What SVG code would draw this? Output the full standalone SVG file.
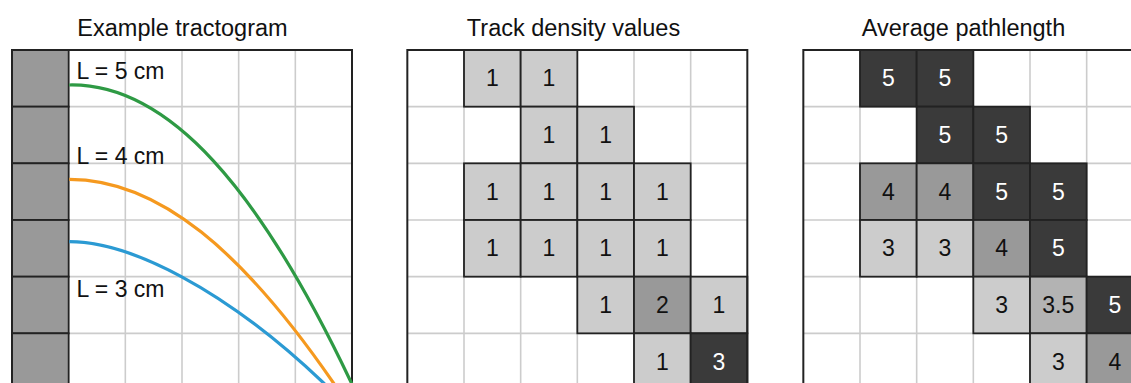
<svg xmlns="http://www.w3.org/2000/svg" width="1131" height="383" viewBox="0 0 1131 383">
<style>
text{font-family:"Liberation Sans",Arial,Helvetica,sans-serif;font-size:23px;fill:#111}
.title{font-size:23.5px;text-anchor:middle}
.v{text-anchor:middle}
.w{fill:#fff}
.grid{stroke:#cccccc;stroke-width:1.6;fill:none}
.frame{stroke:#222;stroke-width:2;fill:none}
.c{stroke:#222;stroke-width:1.8}
.g0{fill:#999999}
.lt{fill:#cccccc}
.md{fill:#999999}
.hm{fill:#b3b3b3}
.dk{fill:#3a3a3a}
.tract{fill:none;stroke-width:3.2;stroke-linecap:butt}
</style>
<rect width="1131" height="383" fill="#fff"/>

<!-- Panel 1 -->
<g id="panel-tractogram">
<text class="title" x="182.5" y="36">Example tractogram</text>
<g class="grid">
<path d="M125.33,50V390M182,50V390M238.67,50V390M295.33,50V390"/>
<path d="M12,106.67H352M12,163.33H352M12,220H352M12,276.67H352M12,333.33H352"/>
</g>
<g id="roi-cells">
<rect class="c g0" x="12" y="50" width="56.67" height="56.67"/>
<rect class="c g0" x="12" y="106.67" width="56.67" height="56.67"/>
<rect class="c g0" x="12" y="163.33" width="56.67" height="56.67"/>
<rect class="c g0" x="12" y="220" width="56.67" height="56.67"/>
<rect class="c g0" x="12" y="276.67" width="56.67" height="56.67"/>
<rect class="c g0" x="12" y="333.33" width="56.67" height="56.67"/>
</g>
<path class="frame" d="M12,390V50H352V390"/>
<g id="tracts">
<path id="tract-5" class="tract" stroke="#2e9a44" d="M69.3,85C169.3,83 260,191 350,380l3,6.3"/>
<path id="tract-4" class="tract" stroke="#f5991f" d="M69.3,179.3C159.3,179.3 243.3,252.2 333.3,382.7l3,4.3"/>
<path id="tract-3" class="tract" stroke="#2b9ad3" d="M69.3,241.7C129.3,241.7 223.3,287.7 323.3,382.7l3,2.9"/>
</g>
<text x="76.5" y="79">L = 5 cm</text>
<text x="76.5" y="164">L = 4 cm</text>
<text x="76.5" y="296.5">L = 3 cm</text>
</g>

<!-- Panel 2 -->
<g id="panel-density">
<text class="title" x="573.5" y="36">Track density values</text>
<g class="grid">
<path d="M464,50V390M520.67,50V390M577.33,50V390M634,50V390M690.67,50V390"/>
<path d="M407.33,106.67H747.33M407.33,163.33H747.33M407.33,220H747.33M407.33,276.67H747.33M407.33,333.33H747.33"/>
</g>
<g id="td-r0c1"><rect class="c lt" x="464" y="50" width="56.67" height="56.67"/><text class="v" x="492.33" y="86.33">1</text></g>
<g id="td-r0c2"><rect class="c lt" x="520.67" y="50" width="56.67" height="56.67"/><text class="v" x="549" y="86.33">1</text></g>
<g id="td-r1c2"><rect class="c lt" x="520.67" y="106.67" width="56.67" height="56.67"/><text class="v" x="549" y="143">1</text></g>
<g id="td-r1c3"><rect class="c lt" x="577.33" y="106.67" width="56.67" height="56.67"/><text class="v" x="605.67" y="143">1</text></g>
<g id="td-r2c1"><rect class="c lt" x="464" y="163.33" width="56.67" height="56.67"/><text class="v" x="492.33" y="199.67">1</text></g>
<g id="td-r2c2"><rect class="c lt" x="520.67" y="163.33" width="56.67" height="56.67"/><text class="v" x="549" y="199.67">1</text></g>
<g id="td-r2c3"><rect class="c lt" x="577.33" y="163.33" width="56.67" height="56.67"/><text class="v" x="605.67" y="199.67">1</text></g>
<g id="td-r2c4"><rect class="c lt" x="634" y="163.33" width="56.67" height="56.67"/><text class="v" x="662.33" y="199.67">1</text></g>
<g id="td-r3c1"><rect class="c lt" x="464" y="220" width="56.67" height="56.67"/><text class="v" x="492.33" y="256.33">1</text></g>
<g id="td-r3c2"><rect class="c lt" x="520.67" y="220" width="56.67" height="56.67"/><text class="v" x="549" y="256.33">1</text></g>
<g id="td-r3c3"><rect class="c lt" x="577.33" y="220" width="56.67" height="56.67"/><text class="v" x="605.67" y="256.33">1</text></g>
<g id="td-r3c4"><rect class="c lt" x="634" y="220" width="56.67" height="56.67"/><text class="v" x="662.33" y="256.33">1</text></g>
<g id="td-r4c3"><rect class="c lt" x="577.33" y="276.67" width="56.67" height="56.67"/><text class="v" x="605.67" y="313">1</text></g>
<g id="td-r4c4"><rect class="c md" x="634" y="276.67" width="56.67" height="56.67"/><text class="v" x="662.33" y="313">2</text></g>
<g id="td-r4c5"><rect class="c lt" x="690.67" y="276.67" width="56.67" height="56.67"/><text class="v" x="719" y="313">1</text></g>
<g id="td-r5c4"><rect class="c lt" x="634" y="333.33" width="56.67" height="56.67"/><text class="v" x="662.33" y="369.67">1</text></g>
<g id="td-r5c5"><rect class="c dk" x="690.67" y="333.33" width="56.67" height="56.67"/><text class="v w" x="719" y="369.67">3</text></g>
<path class="frame" d="M407.33,390V50H747.33V390"/>
</g>

<!-- Panel 3 -->
<g id="panel-pathlength">
<text class="title" x="963.5" y="36">Average pathlength</text>
<g class="grid">
<path d="M860,50V390M916.67,50V390M973.33,50V390M1030,50V390M1086.67,50V390"/>
<path d="M803.33,106.67H1143.33M803.33,163.33H1143.33M803.33,220H1143.33M803.33,276.67H1143.33M803.33,333.33H1143.33"/>
</g>
<g id="pl-r0c1"><rect class="c dk" x="860" y="50" width="56.67" height="56.67"/><text class="v w" x="888.33" y="86.33">5</text></g>
<g id="pl-r0c2"><rect class="c dk" x="916.67" y="50" width="56.67" height="56.67"/><text class="v w" x="945" y="86.33">5</text></g>
<g id="pl-r1c2"><rect class="c dk" x="916.67" y="106.67" width="56.67" height="56.67"/><text class="v w" x="945" y="143">5</text></g>
<g id="pl-r1c3"><rect class="c dk" x="973.33" y="106.67" width="56.67" height="56.67"/><text class="v w" x="1001.67" y="143">5</text></g>
<g id="pl-r2c1"><rect class="c md" x="860" y="163.33" width="56.67" height="56.67"/><text class="v" x="888.33" y="199.67">4</text></g>
<g id="pl-r2c2"><rect class="c md" x="916.67" y="163.33" width="56.67" height="56.67"/><text class="v" x="945" y="199.67">4</text></g>
<g id="pl-r2c3"><rect class="c dk" x="973.33" y="163.33" width="56.67" height="56.67"/><text class="v w" x="1001.67" y="199.67">5</text></g>
<g id="pl-r2c4"><rect class="c dk" x="1030" y="163.33" width="56.67" height="56.67"/><text class="v w" x="1058.33" y="199.67">5</text></g>
<g id="pl-r3c1"><rect class="c lt" x="860" y="220" width="56.67" height="56.67"/><text class="v" x="888.33" y="256.33">3</text></g>
<g id="pl-r3c2"><rect class="c lt" x="916.67" y="220" width="56.67" height="56.67"/><text class="v" x="945" y="256.33">3</text></g>
<g id="pl-r3c3"><rect class="c md" x="973.33" y="220" width="56.67" height="56.67"/><text class="v" x="1001.67" y="256.33">4</text></g>
<g id="pl-r3c4"><rect class="c dk" x="1030" y="220" width="56.67" height="56.67"/><text class="v w" x="1058.33" y="256.33">5</text></g>
<g id="pl-r4c3"><rect class="c lt" x="973.33" y="276.67" width="56.67" height="56.67"/><text class="v" x="1001.67" y="313">3</text></g>
<g id="pl-r4c4"><rect class="c hm" x="1030" y="276.67" width="56.67" height="56.67"/><text class="v" x="1058.33" y="313">3.5</text></g>
<g id="pl-r4c5"><rect class="c dk" x="1086.67" y="276.67" width="56.67" height="56.67"/><text class="v w" x="1115" y="313">5</text></g>
<g id="pl-r5c4"><rect class="c lt" x="1030" y="333.33" width="56.67" height="56.67"/><text class="v" x="1058.33" y="369.67">3</text></g>
<g id="pl-r5c5"><rect class="c md" x="1086.67" y="333.33" width="56.67" height="56.67"/><text class="v" x="1115" y="369.67">4</text></g>
<path class="frame" d="M803.33,390V50H1143.33V390"/>
</g>
</svg>
